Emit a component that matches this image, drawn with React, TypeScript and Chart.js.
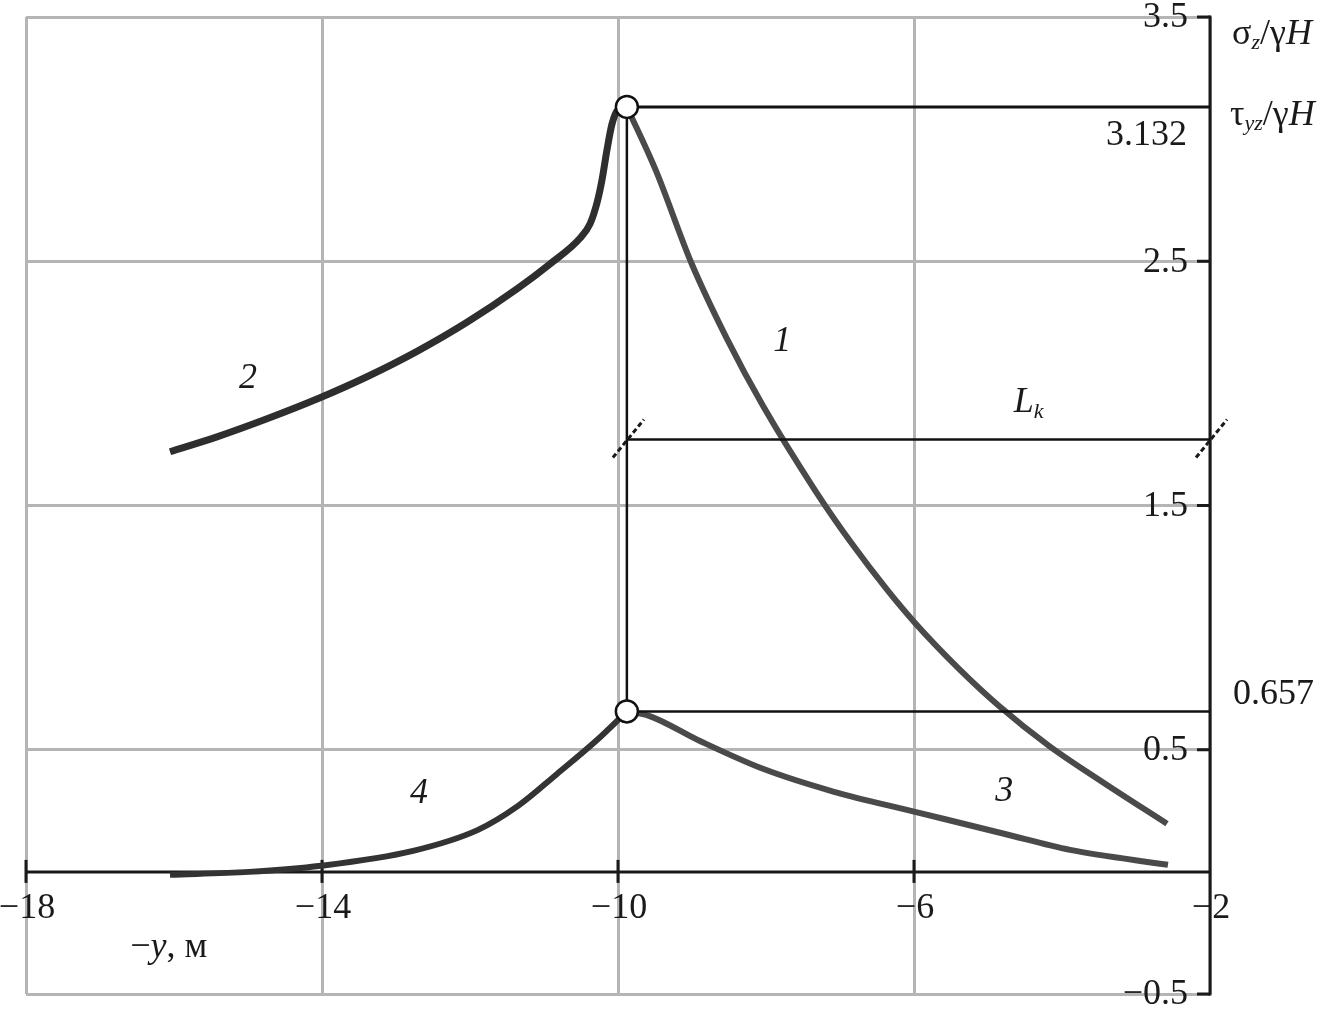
import React, { useEffect, useRef } from "react";
import { Chart, registerables } from "chart.js";

Chart.register(...registerables);

// ---- data ----
const xTicks = [-18, -14, -10, -6, -2];
const yTicks = [-0.5, 0.5, 1.5, 2.5, 3.5];
const xTickLabels = ["\u221218", "\u221214", "\u221210", "\u22126", "\u22122"];
const yTickLabels = ["\u22120.5", "0.5", "1.5", "2.5", "3.5"];

const peakX = -9.88;
const sigmaMax = 3.132;
const tauMax = 0.657;
const lkLevel = 1.77;

// curve 1: sigma_z, right of the edge
const curve1X = [-9.88, -9.486, -9.014, -8.527, -8.041, -7.324, -6.838, -6.351, -5.986, -5.392, -4.851, -4.176, -3.459, -2.581];
const curve1Y = [3.132, 2.87, 2.497, 2.182, 1.908, 1.556, 1.343, 1.15, 1.019, 0.831, 0.679, 0.516, 0.369, 0.197];

// curve 2: sigma_z, left of the edge
const curve2X = [-16.054, -15.419, -14.743, -14.027, -13.392, -12.716, -12.041, -11.365, -10.919, -10.514, -10.378, -10.284, -10.216, -10.149, -10.081, -10.0, -9.88];
const curve2Y = [1.72, 1.781, 1.855, 1.941, 2.027, 2.131, 2.25, 2.387, 2.489, 2.594, 2.653, 2.739, 2.833, 2.956, 3.062, 3.12, 3.132];

// curve 3: tau_yz, right of the edge
const curve3X = [-9.88, -9.581, -8.892, -8.041, -7.081, -5.986, -4.784, -3.892, -2.568];
const curve3Y = [0.657, 0.639, 0.536, 0.422, 0.328, 0.246, 0.156, 0.09, 0.029];

// curve 4: tau_yz, left of the edge
const curve4X = [-16.054, -14.986, -14.014, -12.77, -11.892, -11.351, -10.824, -10.284, -9.88];
const curve4Y = [-0.012, 0.0, 0.025, 0.086, 0.172, 0.27, 0.401, 0.54, 0.657];

const curveNames = ["1", "2", "3", "4"];

const zip = (xs: number[], ys: number[]) => xs.map((x, i) => ({ x, y: ys[i] }));

const FONT = '"Liberation Serif", "DejaVu Serif", serif';

type Seg = { t: string; italic?: boolean; sub?: boolean };

function drawRich(ctx: CanvasRenderingContext2D, segs: Seg[], x: number, y: number, size: number, align: "left" | "right" | "center") {
  const fontOf = (s: Seg) => `${s.italic ? "italic " : ""}${s.sub ? Math.round(size * 0.62) : size}px ${FONT}`;
  let total = 0;
  const widths = segs.map((s) => {
    ctx.font = fontOf(s);
    const w = ctx.measureText(s.t).width;
    total += w;
    return w;
  });
  let cx = align === "left" ? x : align === "right" ? x - total : x - total / 2;
  ctx.textAlign = "left";
  ctx.textBaseline = "alphabetic";
  const base = y + size * 0.33;
  segs.forEach((s, i) => {
    ctx.font = fontOf(s);
    ctx.fillText(s.t, cx, s.sub ? base + size * 0.15 : base);
    cx += widths[i];
  });
}

const overlayPlugin = {
  id: "overlay",
  beforeDatasetsDraw(chart: any) {
    const { ctx, chartArea, scales } = chart;
    const xs = scales.x;
    const ys = scales.y;
    ctx.save();
    ctx.strokeStyle = "#1a1a1a";
    ctx.lineWidth = 3;
    // x axis at y = 0
    const y0 = ys.getPixelForValue(0);
    ctx.beginPath();
    ctx.moveTo(chartArea.left, y0);
    ctx.lineTo(chartArea.right, y0);
    ctx.stroke();
    xTicks.forEach((v) => {
      const px = xs.getPixelForValue(v);
      if (v === xTicks[xTicks.length - 1]) return;
      ctx.beginPath();
      ctx.moveTo(px, y0 - 12);
      ctx.lineTo(px, y0 + 11);
      ctx.stroke();
    });
    // y axis at right
    const xr = xs.getPixelForValue(-2);
    ctx.beginPath();
    ctx.moveTo(xr, chartArea.top - 1.5);
    ctx.lineTo(xr, chartArea.bottom + 1.5);
    ctx.stroke();
    yTicks.forEach((v) => {
      const py = ys.getPixelForValue(v);
      ctx.beginPath();
      ctx.moveTo(xr - 13, py);
      ctx.lineTo(xr, py);
      ctx.stroke();
    });
    ctx.restore();
  },
  afterDatasetsDraw(chart: any) {
    const { ctx, scales } = chart;
    const xs = scales.x;
    const ys = scales.y;
    const X = (v: number) => xs.getPixelForValue(v);
    const Y = (v: number) => ys.getPixelForValue(v);
    const xr = X(-2);
    ctx.save();
    ctx.fillStyle = "#1a1a1a";
    // tick labels
    ctx.font = `36px ${FONT}`;
    ctx.textBaseline = "middle";
    ctx.textAlign = "center";
    xTicks.forEach((v, i) => ctx.fillText(xTickLabels[i], X(v) + 1, Y(0) + 37));
    ctx.textAlign = "right";
    yTicks.forEach((v, i) => ctx.fillText(yTickLabels[i], xr - 22, Y(v) + 1));
    // value labels
    ctx.fillText(String(sigmaMax), xr - 23, Y(sigmaMax) + 29);
    ctx.textAlign = "left";
    ctx.fillText(String(tauMax), xr + 23, Y(tauMax) - 17);
    // axis titles
    drawRich(ctx, [{ t: "\u03c3" }, { t: "z", italic: true, sub: true }, { t: "/\u03b3" }, { t: "H", italic: true }], xr + 22, Y(3.5) + 15, 36, "left");
    drawRich(ctx, [{ t: "\u03c4" }, { t: "yz", italic: true, sub: true }, { t: "/\u03b3" }, { t: "H", italic: true }], xr + 20, Y(sigmaMax) + 6, 36, "left");
    drawRich(ctx, [{ t: "\u2212" }, { t: "y", italic: true }, { t: ", \u043c" }], X(-16.07), Y(-0.3), 36, "center");
    drawRich(ctx, [{ t: "L", italic: true }, { t: "k", italic: true, sub: true }], X(-4.45), Y(1.93), 36, "center");
    // curve labels
    const labelPos = [
      [-7.78, 2.17],
      [-15.0, 2.02],
      [-4.78, 0.33],
      [-12.69, 0.32],
    ];
    ctx.font = `italic 36px ${FONT}`;
    ctx.textAlign = "center";
    ctx.textBaseline = "middle";
    curveNames.forEach((n, i) => ctx.fillText(n, X(labelPos[i][0]), Y(labelPos[i][1])));
    // break marks on the Lk dimension line
    ctx.strokeStyle = "#1a1a1a";
    ctx.lineWidth = 3;
    ctx.setLineDash([5, 3]);
    const yl = Y(lkLevel);
    [X(peakX), xr].forEach((px) => {
      ctx.beginPath();
      ctx.moveTo(px - 14, yl + 18);
      ctx.lineTo(px + 17, yl - 20);
      ctx.stroke();
    });
    ctx.restore();
  },
};

export default function App() {
  const ref = useRef<HTMLCanvasElement | null>(null);
  useEffect(() => {
    if (!ref.current) return;
    const segLine = (pts: { x: number; y: number }[], width: number) => ({
      data: pts,
      showLine: true,
      borderColor: "#111111",
      borderWidth: width,
      pointRadius: 0,
      order: 1,
    });
    const curve = (pts: { x: number; y: number }[], color: string, width: number) => ({
      data: pts,
      showLine: true,
      borderColor: color,
      borderWidth: width,
      pointRadius: 0,
      cubicInterpolationMode: "monotone" as const,
      borderCapStyle: "butt" as const,
      order: 2,
    });
    const chart = new Chart(ref.current, {
      type: "scatter",
      data: {
        datasets: [
          {
            data: [
              { x: peakX, y: sigmaMax },
              { x: peakX, y: tauMax },
            ],
            showLine: false,
            pointRadius: 11,
            pointBackgroundColor: "#ffffff",
            pointBorderColor: "#111111",
            pointBorderWidth: 2.5,
            order: 0,
          },
          segLine([{ x: peakX, y: sigmaMax }, { x: peakX, y: tauMax }], 2.5),
          segLine([{ x: peakX, y: sigmaMax }, { x: -2, y: sigmaMax }], 3),
          segLine([{ x: peakX, y: tauMax }, { x: -2, y: tauMax }], 2.5),
          segLine([{ x: peakX, y: lkLevel }, { x: -2, y: lkLevel }], 2.5),
          curve(zip(curve1X, curve1Y), "#4a4a4c", 6),
          curve(zip(curve2X, curve2Y), "#2e2e2e", 7),
          curve(zip(curve3X, curve3Y), "#4a4a4c", 6),
          curve(zip(curve4X, curve4Y), "#333333", 6),
        ] as any,
      },
      options: {
        animation: false,
        responsive: false,
        devicePixelRatio: 1,
        clip: false as any,
        layout: { padding: { left: 26, right: 121, top: 17, bottom: 24 } },
        plugins: { legend: { display: false }, tooltip: { enabled: false } },
        events: [],
        scales: {
          x: {
            type: "linear",
            min: -18,
            max: -2,
            afterBuildTicks: (s: any) => {
              s.ticks = xTicks.map((v) => ({ value: v }));
            },
            ticks: { display: false },
            grid: { color: "#b5b5b5", lineWidth: 3, drawTicks: false },
            border: { display: false },
          },
          y: {
            type: "linear",
            position: "right",
            min: -0.5,
            max: 3.5,
            afterBuildTicks: (s: any) => {
              s.ticks = yTicks.map((v) => ({ value: v }));
            },
            ticks: { display: false },
            grid: { color: "#b5b5b5", lineWidth: 3, drawTicks: false },
            border: { display: false },
          },
        },
      },
      plugins: [overlayPlugin],
    });
    return () => chart.destroy();
  }, []);
  return (
    <div style={{ position: "absolute", left: 0, top: 0, width: 1331, height: 1018, background: "#fff" }}>
      <canvas ref={ref} width={1331} height={1018} style={{ display: "block" }} />
    </div>
  );
}
